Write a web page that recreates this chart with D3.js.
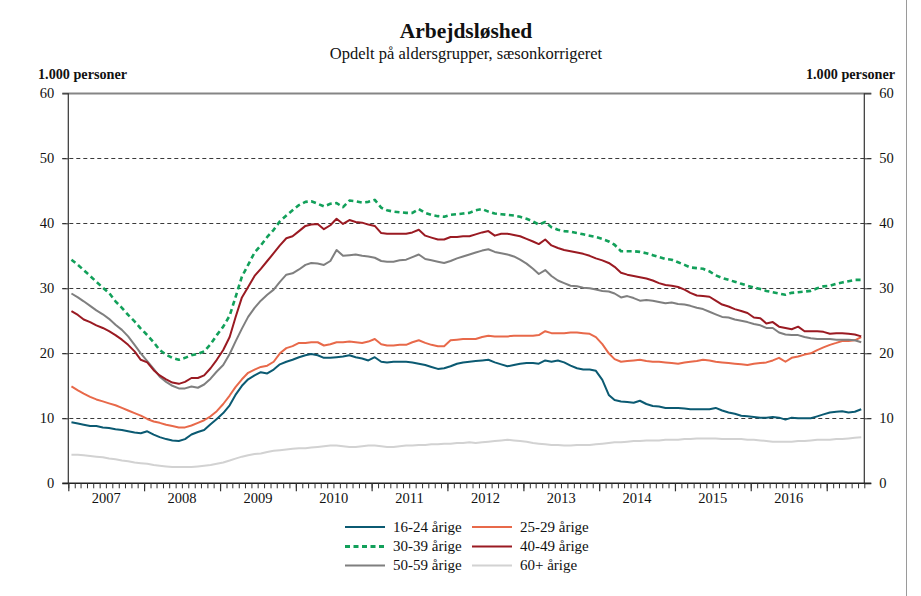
<!DOCTYPE html>
<html>
<head>
<meta charset="utf-8">
<script src="https://cdn.jsdelivr.net/npm/d3@7"></script>
<style>
html,body{margin:0;padding:0;background:#fff;}
svg{display:block;}
text{font-family:"Liberation Serif","DejaVu Serif",serif;fill:#111;}
</style>
</head>
<body>
<svg id="chart" width="921" height="596"></svg>
<script>
// ---- data (monthly, seasonally adjusted, 1.000 persons), Jan 2007 - Jun 2017 ----
const startMonth = "2007-01";
const seriesNames = ["16-24 årige","25-29 årige","30-39 årige","40-49 årige","50-59 årige","60+ årige"];
const yTicks = [0,10,20,30,40,50,60];
const yearLabels = ["2007","2008","2009","2010","2011","2012","2013","2014","2015","2016"];

const age16_24 = [
9.4,9.2,9.0,8.8,8.8,8.6,8.5,8.3,8.2,8.0,
7.8,7.7,8.0,7.5,7.1,6.8,6.6,6.5,6.8,7.5,
7.9,8.2,9.1,9.9,10.8,12.0,13.6,15.0,16.0,16.6,
17.1,16.9,17.5,18.3,18.7,19.0,19.4,19.7,19.9,19.7,
19.3,19.3,19.4,19.5,19.7,19.4,19.2,18.9,19.4,18.7,
18.6,18.7,18.7,18.7,18.6,18.4,18.2,17.9,17.6,17.7,
18.0,18.4,18.6,18.7,18.8,18.9,19.0,18.6,18.3,18.0,
18.2,18.4,18.5,18.5,18.4,18.9,18.7,18.9,18.6,18.1,
17.7,17.5,17.5,17.3,15.9,13.6,12.8,12.6,12.5,12.4,
12.7,12.2,11.9,11.8,11.6,11.6,11.6,11.5,11.4,11.4,
11.4,11.4,11.6,11.2,10.9,10.7,10.4,10.3,10.2,10.1,
10.1,10.2,10.1,9.8,10.1,10.0,10.0,10.0,10.3,10.6,
10.9,11.0,11.1,10.9,11.0,11.4];

const age25_29 = [
14.9,14.3,13.8,13.3,12.9,12.6,12.3,12.0,11.6,11.2,
10.8,10.4,9.9,9.5,9.3,9.0,8.8,8.6,8.6,8.9,
9.3,9.7,10.3,11.1,12.2,13.5,14.8,16.0,17.0,17.5,
17.9,18.1,18.7,20.0,20.8,21.1,21.6,21.6,21.7,21.7,
21.2,21.4,21.7,21.7,21.8,21.7,21.6,21.8,22.2,21.4,
21.2,21.2,21.3,21.3,21.7,22.0,21.6,21.3,21.1,21.1,
22.0,22.1,22.2,22.2,22.2,22.5,22.7,22.6,22.6,22.6,
22.7,22.7,22.7,22.7,22.8,23.4,23.1,23.1,23.1,23.2,
23.2,23.1,23.0,22.5,21.4,20.0,19.1,18.7,18.8,18.9,
19.0,18.8,18.7,18.7,18.6,18.5,18.4,18.6,18.7,18.8,
19.0,18.9,18.7,18.6,18.5,18.4,18.3,18.2,18.4,18.5,
18.6,18.9,19.3,18.7,19.3,19.5,19.8,20.0,20.5,20.9,
21.3,21.6,21.9,21.9,22.0,22.5];

const age30_39 = [
34.4,33.6,32.8,31.9,31.0,30.1,29.3,28.0,27.0,25.9,
24.9,23.8,22.8,21.7,20.5,19.8,19.3,19.0,19.3,19.7,
19.9,20.3,21.4,22.8,24.1,25.8,28.6,31.8,33.6,35.5,
36.6,37.9,39.0,40.3,41.2,42.0,42.8,43.3,43.4,43.0,
42.6,43.0,43.1,42.5,43.5,43.4,43.2,43.3,43.6,42.4,
42.0,41.8,41.7,41.6,41.6,42.2,41.6,41.3,41.1,41.0,
41.3,41.4,41.5,41.6,42.0,42.2,41.8,41.5,41.4,41.3,
41.2,41.0,40.7,40.3,39.8,40.2,39.4,39.0,38.8,38.7,
38.5,38.3,38.1,37.9,37.6,37.2,36.7,35.7,35.7,35.7,
35.6,35.4,35.1,34.8,34.5,34.4,34.0,33.6,33.2,33.1,
33.0,32.6,32.0,31.6,31.3,31.0,30.7,30.4,30.1,29.9,
29.6,29.4,29.2,29.0,29.3,29.4,29.5,29.6,30.0,30.3,
30.4,30.7,30.9,31.1,31.3,31.3];

const age40_49 = [
26.5,25.9,25.2,24.8,24.3,23.9,23.4,22.8,22.1,21.3,
20.3,19.0,18.6,17.4,16.6,16.0,15.5,15.3,15.6,16.2,
16.2,16.6,17.7,19.0,20.5,22.5,25.5,28.6,30.2,31.9,
33.0,34.2,35.4,36.6,37.7,38.0,38.8,39.6,39.8,39.9,
39.1,39.7,40.7,39.9,40.5,40.2,40.1,39.8,39.6,38.5,
38.4,38.4,38.4,38.4,38.6,39.0,38.1,37.8,37.5,37.5,
37.9,37.9,38.0,38.0,38.3,38.6,38.8,38.1,38.4,38.4,
38.2,38.0,37.6,37.2,36.8,37.5,36.6,36.2,35.9,35.7,
35.5,35.3,35.0,34.6,34.3,33.9,33.3,32.4,32.1,31.9,
31.7,31.5,31.2,30.8,30.5,30.4,30.2,29.8,29.3,28.9,
28.8,28.7,28.1,27.5,27.2,26.8,26.5,26.2,25.5,25.4,
24.6,24.8,24.1,23.9,23.7,24.1,23.4,23.4,23.4,23.3,
23.0,23.1,23.1,23.0,22.9,22.6];

const age50_59 = [
29.2,28.6,28.0,27.3,26.6,26.0,25.3,24.4,23.6,22.6,
21.3,20.0,18.8,17.6,16.4,15.6,15.0,14.6,14.6,14.9,
14.7,15.2,16.1,17.2,18.2,19.9,21.8,23.8,25.6,27.0,
28.1,29.0,29.8,31.0,32.1,32.3,32.9,33.6,33.9,33.8,
33.6,34.2,35.9,35.0,35.1,35.2,35.0,34.9,34.7,34.2,
34.1,34.1,34.3,34.4,34.8,35.2,34.5,34.3,34.1,33.9,
34.2,34.6,34.9,35.2,35.5,35.8,36.0,35.6,35.4,35.2,
34.9,34.4,33.8,33.0,32.2,32.8,31.9,31.2,30.8,30.4,
30.3,30.1,30.0,29.8,29.6,29.5,29.2,28.6,28.8,28.5,
28.1,28.2,28.1,27.9,27.7,27.8,27.6,27.5,27.3,27.0,
26.8,26.4,26.0,25.6,25.5,25.2,25.0,24.8,24.5,24.3,
23.9,23.9,23.2,22.9,22.8,22.8,22.5,22.3,22.2,22.2,
22.2,22.1,22.1,22.1,22.0,21.7];

const age60plus = [
4.4,4.4,4.3,4.2,4.1,4.0,3.8,3.7,3.5,3.4,
3.2,3.1,3.0,2.8,2.7,2.6,2.5,2.5,2.5,2.5,
2.6,2.7,2.8,3.0,3.2,3.5,3.8,4.1,4.3,4.5,
4.6,4.8,5.0,5.1,5.2,5.3,5.4,5.4,5.5,5.6,
5.7,5.8,5.8,5.7,5.6,5.6,5.7,5.8,5.8,5.7,
5.6,5.6,5.7,5.8,5.8,5.9,5.9,6.0,6.0,6.1,
6.1,6.2,6.2,6.3,6.2,6.3,6.4,6.5,6.6,6.7,
6.6,6.5,6.4,6.2,6.1,6.0,5.9,5.9,5.8,5.8,
5.9,5.9,5.9,6.0,6.1,6.2,6.3,6.3,6.4,6.5,
6.5,6.6,6.6,6.6,6.7,6.7,6.7,6.8,6.8,6.9,
6.9,6.9,6.9,6.8,6.8,6.8,6.8,6.7,6.7,6.6,
6.5,6.4,6.4,6.4,6.4,6.5,6.5,6.6,6.7,6.7,
6.7,6.8,6.8,6.9,7.0,7.1];

// ---- layout / style ----
const seriesValues = [age16_24, age25_29, age30_39, age40_49, age50_59, age60plus];
const seriesColors = ["#0b5a72","#e8694a","#12a05a","#9a1a22","#7f7f7f","#d2d2d2"];
const seriesDash = [null,null,"5,3.5",null,null,null];
const seriesWidth = [2,2,2.6,2,2,2];

const svg = d3.select("#chart");
const L = 68.3, R = 864.3, T = 93.3, B = 483.3;

const parse = d3.timeParse("%Y-%m");
const t0 = parse(startMonth);
const nMonths = age16_24.length;
const tEnd = d3.timeMonth.offset(t0, nMonths);
const x = d3.scaleTime().domain([t0, tEnd]).range([L, R]);
const y = d3.scaleLinear().domain([0, 60]).range([B, T]);
const dateOf = i => new Date(d3.timeMonth.offset(t0, i).getTime() + 15.2*864e5);

// border
svg.append("line").attr("x1",906.5).attr("x2",906.5).attr("y1",0).attr("y2",596)
  .attr("stroke","#9a9a9a").attr("stroke-width",1);

// titles
svg.append("text").attr("x",466).attr("y",38).attr("text-anchor","middle")
  .style("font-size","21.5px").style("font-weight","bold").text("Arbejdsløshed");
svg.append("text").attr("x",466).attr("y",59).attr("text-anchor","middle")
  .style("font-size","16.5px").text("Opdelt på aldersgrupper, sæsonkorrigeret");
svg.append("text").attr("x",38).attr("y",79)
  .style("font-size","14.2px").style("font-weight","bold").text("1.000 personer");
svg.append("text").attr("x",895).attr("y",79).attr("text-anchor","end")
  .style("font-size","14.2px").style("font-weight","bold").text("1.000 personer");

// gridlines
const g = svg.append("g");
yTicks.forEach(v => {
  if (v === 0) return;
  const yy = Math.round(y(v)) + 0.5;
  if (v === 60) {
    g.append("line").attr("x1",L-6).attr("x2",R+7).attr("y1",yy).attr("y2",yy)
      .attr("stroke","#858585").attr("stroke-width",2);
  } else {
    g.append("line").attr("x1",L-6).attr("x2",R+7).attr("y1",yy).attr("y2",yy)
      .attr("stroke","#3a3a3a").attr("stroke-width",1).attr("stroke-dasharray","4,3");
  }
});

// y axes
const yAxisL = d3.axisLeft(y).tickValues(yTicks).tickSize(6).tickPadding(8).tickFormat(d3.format("d"));
const yAxisR = d3.axisRight(y).tickValues(yTicks).tickSize(7).tickPadding(8).tickFormat(d3.format("d"));
const gl = svg.append("g").attr("transform",`translate(${L},0)`).call(yAxisL);
const gr = svg.append("g").attr("transform",`translate(${R},0)`).call(yAxisR);
[gl,gr].forEach(a => {
  a.select(".domain").attr("stroke","#333").attr("stroke-width",1.2);
  a.selectAll(".tick line").attr("stroke","#333");
  a.selectAll("text").style("font-size","14.5px").style("font-family",'"Liberation Serif",serif').attr("fill","#111");
});
gl.select(".domain").attr("d",`M-0,${T}V${B}`);
gr.select(".domain").attr("d",`M0,${T}V${B}`);

// x axis (monthly minor ticks, yearly major ticks)
const xAxisMinor = d3.axisBottom(x).ticks(d3.timeMonth.every(1)).tickSize(5).tickFormat("");
const xAxisMajor = d3.axisBottom(x).ticks(d3.timeYear.every(1)).tickSize(8).tickFormat("");
const gxm = svg.append("g").attr("transform",`translate(0,${B})`).call(xAxisMinor);
const gxM = svg.append("g").attr("transform",`translate(0,${B})`).call(xAxisMajor);
gxm.select(".domain").attr("d",`M${L-6},0H${R+7}`).attr("stroke","#222").attr("stroke-width",1.4);
gxM.select(".domain").remove();
gxm.selectAll(".tick line").attr("stroke","#333");
gxM.selectAll(".tick line").attr("stroke","#333").attr("stroke-width",1.2);

// year labels centred in each year
yearLabels.forEach(yr => {
  const a = parse(yr+"-01"), b = d3.timeYear.offset(a,1);
  svg.append("text").attr("x",(x(a)+x(b))/2).attr("y",503).attr("text-anchor","middle")
    .style("font-size","14.5px").text(yr);
});

// lines
const line = d3.line().x((d,i)=>x(dateOf(i))).y(d=>y(d)).curve(d3.curveLinear);
const drawOrder = [5,1,0,4,3,2];
drawOrder.forEach(k => {
  svg.append("path").datum(seriesValues[k]).attr("d",line)
    .attr("fill","none").attr("stroke",seriesColors[k])
    .attr("stroke-width",seriesWidth[k]).attr("stroke-linejoin","round")
    .attr("stroke-dasharray",seriesDash[k]);
});

// legend
const legX = [345, 472], legY = [527, 546.5, 565.5];
const legOrder = [0,1,2,3,4,5];
legOrder.forEach((k,i) => {
  const cx = legX[i%2], cy = legY[Math.floor(i/2)];
  svg.append("line").attr("x1",cx).attr("x2",cx+40).attr("y1",cy).attr("y2",cy)
    .attr("stroke",seriesColors[k]).attr("stroke-width",k===2?3:2.2)
    .attr("stroke-dasharray",seriesDash[k]);
  svg.append("text").attr("x",cx+48).attr("y",cy+4.8).style("font-size","15px").text(seriesNames[k]);
});
</script>
</body>
</html>
